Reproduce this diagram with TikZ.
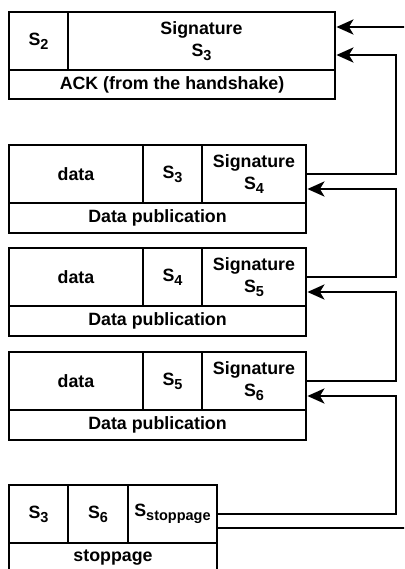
\documentclass[tikz,border=0pt]{standalone}
\usepackage{fontspec}
\setmainfont{Liberation Sans}
\usetikzlibrary{arrows.meta,calc}
\newcommand\sbx[1]{\raisebox{-4pt}{\fontsize{14.5}{14.5}\selectfont #1}}
\begin{document}
\begin{tikzpicture}[x=1pt,y=-1pt,
  cell/.style={draw, line width=2.8pt, inner sep=0pt, align=center,
    font=\fontsize{17.8}{21.5}\selectfont\bfseries},
  conn/.style={line width=2.8pt},
  arr/.style={conn,-{Stealth[length=17pt,width=15pt,inset=4.5pt]}}]
\useasboundingbox (0,0) rectangle (404,569);
\clip (0,0) rectangle (404,569);
% box 1
\node[cell,minimum width=59pt,minimum height=58pt] (b1a) at (38.5,41) {S\sbx{2}};
\node[cell,minimum width=267pt,minimum height=58pt] (b1b) at (201.5,41) {Signature\\S\sbx{3}};
\node[cell,minimum width=326pt,minimum height=29pt] (b1c) at (172,84.5) {ACK (from the handshake)};
% box 2
\node[cell,minimum width=134pt,minimum height=58pt] (b2a) at (76,174) {data};
\node[cell,minimum width=59pt,minimum height=58pt] (b2b) at (172.5,174) {S\sbx{3}};
\node[cell,minimum width=104pt,minimum height=58pt] (b2c) at (254,174) {Signature\\S\sbx{4}};
\node[cell,minimum width=297pt,minimum height=30pt] (b2d) at (157.5,218) {Data publication};
% box 3
\node[cell,minimum width=134pt,minimum height=58pt] (b3a) at (76,277) {data};
\node[cell,minimum width=59pt,minimum height=58pt] (b3b) at (172.5,277) {S\sbx{4}};
\node[cell,minimum width=104pt,minimum height=58pt] (b3c) at (254,277) {Signature\\S\sbx{5}};
\node[cell,minimum width=297pt,minimum height=30pt] (b3d) at (157.5,321) {Data publication};
% box 4
\node[cell,minimum width=134pt,minimum height=58pt] (b4a) at (76,381) {data};
\node[cell,minimum width=59pt,minimum height=58pt] (b4b) at (172.5,381) {S\sbx{5}};
\node[cell,minimum width=104pt,minimum height=58pt] (b4c) at (254,381) {Signature\\S\sbx{6}};
\node[cell,minimum width=297pt,minimum height=30pt] (b4d) at (157.5,425) {Data publication};
% box 5
\node[cell,minimum width=59pt,minimum height=58pt] (b5a) at (38.5,514) {S\sbx{3}};
\node[cell,minimum width=60pt,minimum height=58pt] (b5b) at (98,514) {S\sbx{6}};
\node[cell,minimum width=89pt,minimum height=58pt] (b5c) at (172.5,514) {S\sbx{stoppage}};
\node[cell,minimum width=208pt,minimum height=30pt] (b5d) at (113,558) {stoppage};
% connectors
\coordinate (rail) at (396,0);
\coordinate (inA) at (406,27);
\coordinate (outB) at (410,528);
\draw[arr] (inA) -- ([yshift=14pt]b1b.east);
\draw[arr] (b2c.east) -- (b2c.east -| rail) |- ([yshift=-14pt]b1b.east);
\draw[arr] (b3c.east) -- (b3c.east -| rail) |- ([yshift=-15pt]b2c.east);
\draw[arr] (b4c.east) -- (b4c.east -| rail) |- ([yshift=-15pt]b3c.east);
\draw[arr] (b5c.east) -- (b5c.east -| rail) |- ([yshift=-15pt]b4c.east);
\draw[conn] ([yshift=-14pt]b5c.east) -- (outB);
\end{tikzpicture}
\end{document}
